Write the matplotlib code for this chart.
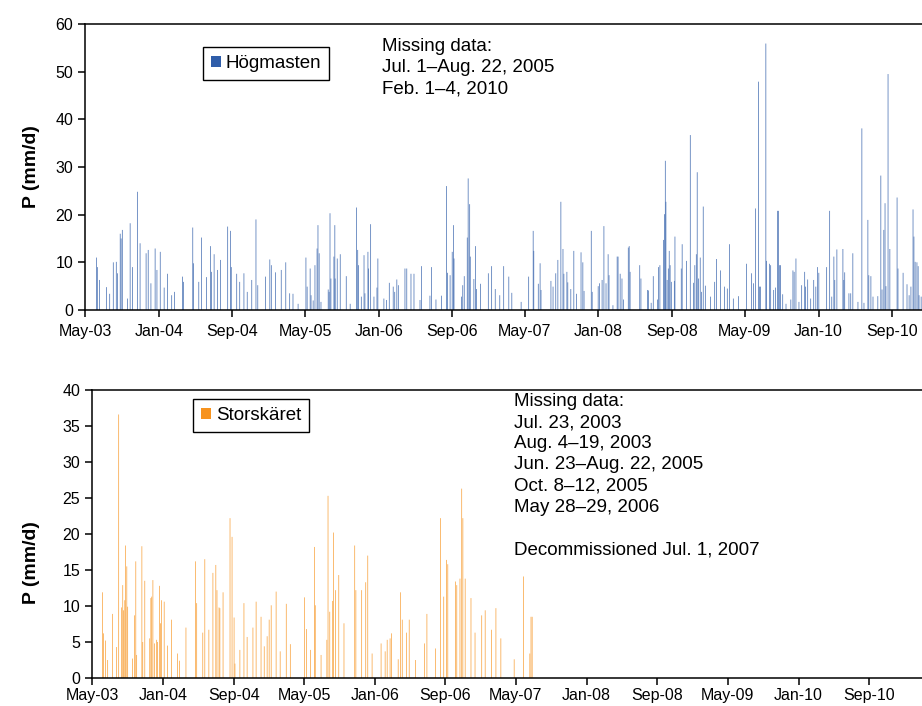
import matplotlib
matplotlib.use("Agg")
import matplotlib.pyplot as plt
import pandas as pd

plt.rcParams['font.family'] = ['Liberation Sans', 'DejaVu Sans']

# --- Högmasten: daily precipitation (mm/d) ---
hog_dates = [
    # 2003
    "2003-06-08", "2003-06-11", "2003-06-18", "2003-07-11", "2003-07-22", "2003-08-03", "2003-08-13",
    "2003-08-17", "2003-08-26", "2003-08-29", "2003-09-02", "2003-09-19", "2003-09-28", "2003-10-06",
    "2003-10-22", "2003-10-31", "2003-11-20", "2003-11-27", "2003-12-06", "2003-12-20", "2003-12-26",
    # 2004
    "2004-01-06", "2004-01-19", "2004-01-30", "2004-02-13", "2004-02-22", "2004-03-20", "2004-03-23",
    "2004-04-23", "2004-04-25", "2004-05-13", "2004-05-22", "2004-06-08", "2004-06-21", "2004-06-24",
    "2004-07-03", "2004-07-14", "2004-07-24", "2004-08-17", "2004-08-26", "2004-08-29", "2004-09-16",
    "2004-09-26", "2004-10-10", "2004-10-21", "2004-11-05", "2004-11-19", "2004-11-25", "2004-12-21",
    # 2005
    "2005-01-04", "2005-01-09", "2005-01-23", "2005-02-11", "2005-02-26", "2005-03-11", "2005-03-22",
    "2005-04-08", "2005-05-04", "2005-05-08", "2005-05-18", "2005-05-21", "2005-05-28", "2005-06-03",
    "2005-06-10", "2005-06-13", "2005-06-17", "2005-06-23", "2005-07-17", "2005-07-20", "2005-07-23",
    "2005-07-26", "2005-08-05", "2005-08-08", "2005-08-09", "2005-08-16", "2005-08-26", "2005-09-15",
    "2005-09-28", "2005-10-19", "2005-10-23", "2005-10-26", "2005-11-04", "2005-11-13", "2005-11-16",
    "2005-11-26", "2005-11-28", "2005-12-05", "2005-12-16", "2005-12-26", "2005-12-29",
    # 2006
    "2006-01-18", "2006-01-27", "2006-02-05", "2006-02-18", "2006-02-23", "2006-03-02", "2006-03-07",
    "2006-03-29", "2006-04-04", "2006-04-18", "2006-04-28", "2006-05-18", "2006-05-23", "2006-06-20",
    "2006-06-25", "2006-07-10", "2006-07-28", "2006-08-14", "2006-08-17", "2006-08-26", "2006-09-02",
    "2006-09-06", "2006-09-08", "2006-10-03", "2006-10-07", "2006-10-12", "2006-10-22", "2006-10-25",
    "2006-10-30", "2006-11-01", "2006-11-13", "2006-11-18", "2006-11-22", "2006-12-05", "2006-12-31",
    # 2007
    "2007-01-11", "2007-01-23", "2007-02-07", "2007-02-20", "2007-03-09", "2007-03-19", "2007-04-19",
    "2007-05-14", "2007-05-29", "2007-05-31", "2007-06-15", "2007-06-21", "2007-06-24", "2007-07-27",
    "2007-08-03", "2007-08-12", "2007-08-19", "2007-08-29", "2007-09-05", "2007-09-08", "2007-09-18",
    "2007-09-21", "2007-10-01", "2007-10-11", "2007-10-20", "2007-11-04", "2007-11-10", "2007-11-14",
    "2007-12-08", "2007-12-11", "2007-12-31",
    # 2008
    "2008-01-04", "2008-01-13", "2008-01-19", "2008-01-26", "2008-02-02", "2008-02-05", "2008-02-18",
    "2008-03-03", "2008-03-06", "2008-03-13", "2008-03-19", "2008-03-24", "2008-04-09", "2008-04-12",
    "2008-04-15", "2008-05-17", "2008-05-21", "2008-06-12", "2008-06-15", "2008-06-24", "2008-07-01",
    "2008-07-15", "2008-07-18", "2008-07-23", "2008-08-04", "2008-08-07", "2008-08-10", "2008-08-12",
    "2008-08-16", "2008-08-20", "2008-08-23", "2008-08-26", "2008-08-30", "2008-09-09", "2008-09-11",
    "2008-10-02", "2008-10-05", "2008-10-19", "2008-11-01", "2008-11-12", "2008-11-16", "2008-11-21",
    "2008-11-24", "2008-11-28", "2008-12-04", "2008-12-08", "2008-12-14", "2008-12-21",
    # 2009
    "2009-01-07", "2009-01-21", "2009-01-27", "2009-02-09", "2009-02-23", "2009-03-04", "2009-03-11",
    "2009-03-24", "2009-04-10", "2009-05-07", "2009-05-23", "2009-05-30", "2009-06-06", "2009-06-16",
    "2009-06-19", "2009-06-22", "2009-07-10", "2009-07-12", "2009-07-22", "2009-07-26", "2009-08-05",
    "2009-08-11", "2009-08-18", "2009-08-21", "2009-08-25", "2009-08-28", "2009-09-04", "2009-09-15",
    "2009-10-01", "2009-10-08", "2009-10-12", "2009-10-18", "2009-10-28", "2009-11-06", "2009-11-16",
    "2009-11-19", "2009-11-26", "2009-12-06", "2009-12-16", "2009-12-23", "2009-12-29",
    # 2010
    "2010-01-02", "2010-01-28", "2010-02-07", "2010-02-14", "2010-02-21", "2010-02-24", "2010-03-03",
    "2010-03-23", "2010-03-26", "2010-03-29", "2010-04-12", "2010-04-18", "2010-04-25", "2010-05-12",
    "2010-05-25", "2010-06-01", "2010-06-14", "2010-06-17", "2010-06-24", "2010-07-01", "2010-07-17",
    "2010-07-27", "2010-07-31", "2010-08-06", "2010-08-10", "2010-08-13", "2010-08-20", "2010-08-26",
    "2010-09-19", "2010-09-22", "2010-10-09", "2010-10-22", "2010-10-29", "2010-11-04", "2010-11-11",
    "2010-11-14", "2010-11-18", "2010-11-24", "2010-11-28", "2010-12-01", "2010-12-08", "2010-12-14",
    "2010-12-18",
]
hog_values = [
    # 2003
    11.0, 9.0, 6.3, 4.8, 3.4, 10.0, 10.1, 7.7, 16.0, 15.0, 16.8, 2.4, 18.2, 9.0, 24.8, 14.0, 11.9, 12.6,
    5.6, 12.9, 8.4,
    # 2004
    12.2, 4.7, 7.6, 3.1, 3.8, 7.0, 5.9, 17.3, 9.8, 5.9, 15.2, 6.9, 13.4, 8.0, 11.7, 8.4, 10.5, 17.5, 16.6,
    9.0, 7.6, 5.9, 7.7, 3.8, 6.3, 19.0, 5.2, 7.0,
    # 2005
    10.6, 9.4, 7.9, 8.4, 10.0, 3.5, 3.4, 1.3, 11.0, 4.9, 8.7, 3.1, 2.0, 9.4, 12.9, 17.8, 11.9, 1.7, 4.3,
    3.8, 20.3, 6.6, 11.2, 17.8, 6.6, 10.8, 11.7, 7.1, 1.3, 21.5, 12.6, 9.4, 2.8, 11.5, 3.5, 12.2, 8.7,
    18.0, 2.8, 4.7, 10.8,
    # 2006
    2.4, 2.1, 5.7, 4.9, 3.8, 6.4, 5.2, 8.7, 8.7, 7.6, 7.6, 2.1, 9.2, 3.0, 9.0, 2.2, 3.0, 26.0, 7.8, 7.3,
    12.2, 17.8, 10.8, 2.8, 5.2, 7.1, 15.2, 27.6, 22.2, 11.2, 6.5, 13.4, 4.4, 5.5, 7.7,
    # 2007
    9.2, 4.4, 3.1, 9.2, 7.0, 3.6, 1.7, 7.0, 16.6, 12.4, 5.5, 9.8, 4.2, 6.1, 4.9, 7.7, 10.5, 22.7, 12.8,
    7.6, 8.0, 5.8, 4.4, 12.4, 3.4, 12.1, 10.0, 4.0, 16.6, 3.8, 5.0,
    # 2008
    5.6, 6.3, 17.6, 5.6, 11.7, 7.3, 1.0, 11.2, 11.2, 7.6, 6.6, 2.2, 13.1, 13.4, 8.0, 9.4, 6.6, 4.2, 4.1,
    1.5, 7.1, 2.2, 9.0, 9.4, 14.7, 20.1, 31.3, 22.7, 6.3, 8.7, 12.4, 9.4, 5.9, 6.1, 15.4, 8.7, 13.8, 10.3,
    36.7, 5.7, 9.4, 11.7, 28.9, 6.6, 11.0, 3.8, 21.7, 5.1,
    # 2009
    2.8, 5.9, 10.7, 8.3, 4.9, 4.5, 13.8, 2.4, 2.9, 9.7, 7.7, 5.6, 21.3, 47.9, 4.9, 4.9, 55.9, 10.3, 9.7,
    9.4, 4.2, 4.7, 20.8, 20.8, 9.4, 9.4, 3.3, 1.3, 2.2, 8.3, 8.0, 10.8, 1.7, 5.2, 8.0, 4.9, 6.4, 2.4, 6.3,
    4.9, 9.0,
    # 2010
    7.8, 9.0, 20.8, 2.8, 11.2, 6.3, 12.7, 12.8, 6.3, 7.9, 3.5, 3.5, 11.9, 1.7, 38.1, 1.5, 18.9, 7.3, 7.1,
    2.8, 2.9, 28.2, 4.3, 16.8, 22.4, 5.0, 49.5, 12.8, 23.6, 8.7, 7.8, 5.4, 3.1, 4.9, 21.1, 15.4, 10.1,
    10.0, 9.2, 3.1, 2.8, 3.5, 3.8,
]

# --- Storskäret: daily precipitation (mm/d) ---
sto_dates = [
    # 2003
    "2003-06-06", "2003-06-10", "2003-06-17", "2003-06-24", "2003-07-11", "2003-07-25", "2003-08-01",
    "2003-08-11", "2003-08-15", "2003-08-18", "2003-08-22", "2003-08-25", "2003-08-29", "2003-09-01",
    "2003-09-18", "2003-09-25", "2003-09-29", "2003-10-02", "2003-10-20", "2003-10-23", "2003-10-30",
    "2003-11-16", "2003-11-20", "2003-11-23", "2003-11-27", "2003-12-03", "2003-12-10", "2003-12-13",
    "2003-12-20", "2003-12-23", "2003-12-27",
    # 2004
    "2004-01-05", "2004-01-16", "2004-01-30", "2004-02-20", "2004-02-27", "2004-03-20", "2004-04-22",
    "2004-04-26", "2004-05-17", "2004-05-24", "2004-06-07", "2004-06-21", "2004-07-01", "2004-07-05",
    "2004-07-12", "2004-07-15", "2004-07-26", "2004-08-19", "2004-08-26", "2004-09-02", "2004-09-05",
    "2004-09-22", "2004-10-06", "2004-10-17", "2004-11-06", "2004-11-17", "2004-12-04", "2004-12-15",
    "2004-12-25",
    # 2005
    "2005-01-01", "2005-01-08", "2005-01-25", "2005-02-08", "2005-03-01", "2005-03-15", "2005-05-03",
    "2005-05-10", "2005-05-24", "2005-06-06", "2005-06-09", "2005-06-29", "2005-07-19", "2005-07-23",
    "2005-07-29", "2005-08-08", "2005-08-11", "2005-08-18", "2005-08-29", "2005-09-16", "2005-10-23",
    "2005-10-27", "2005-11-16", "2005-11-30", "2005-12-07", "2005-12-22",
    # 2006
    "2006-01-22", "2006-02-05", "2006-02-12", "2006-02-22", "2006-02-27", "2006-03-22", "2006-03-30",
    "2006-04-05", "2006-04-20", "2006-04-29", "2006-05-21", "2006-06-21", "2006-06-29", "2006-07-29",
    "2006-08-15", "2006-08-26", "2006-09-05", "2006-09-09", "2006-10-06", "2006-10-10", "2006-10-21",
    "2006-10-27", "2006-10-31", "2006-11-08", "2006-11-28", "2006-12-12",
    # 2007
    "2007-01-04", "2007-01-16", "2007-02-07", "2007-02-22", "2007-03-11", "2007-04-26", "2007-05-28",
    "2007-06-19", "2007-06-23", "2007-06-27",
]
sto_values = [
    # 2003
    11.9, 6.2, 5.2, 2.5, 8.9, 4.3, 36.6, 9.8, 12.9, 9.4, 10.8, 18.4, 15.5, 9.9, 2.7, 8.7, 16.2, 3.2, 18.3,
    5.0, 13.5, 5.5, 11.1, 11.3, 13.6, 4.8, 5.3, 5.0, 12.8, 7.6, 10.8,
    # 2004
    10.6, 4.5, 8.1, 3.4, 2.4, 7.0, 16.2, 10.4, 6.3, 16.5, 6.7, 14.6, 15.7, 12.2, 9.8, 9.7, 11.9, 22.2,
    19.6, 8.4, 2.0, 3.9, 10.4, 5.7, 7.0, 10.6, 8.5, 4.4, 5.8,
    # 2005
    8.1, 10.1, 12.0, 3.7, 10.3, 4.7, 11.2, 6.8, 3.9, 18.2, 10.1, 3.2, 5.3, 25.3, 9.2, 10.7, 20.2, 12.2,
    14.3, 7.6, 18.4, 12.2, 12.2, 13.3, 17.0, 3.4,
    # 2006
    4.8, 3.7, 5.3, 5.5, 6.2, 2.6, 11.9, 8.1, 6.3, 8.1, 2.5, 4.8, 8.9, 4.1, 22.2, 11.3, 16.4, 15.8, 13.4,
    12.9, 13.8, 26.3, 22.2, 13.8, 11.1, 6.3,
    # 2007
    8.7, 9.4, 6.7, 9.7, 5.5, 2.6, 14.1, 3.4, 8.5, 8.5,
]

tick_labels = ["May-03", "Jan-04", "Sep-04", "May-05", "Jan-06", "Sep-06",
               "May-07", "Jan-08", "Sep-08", "May-09", "Jan-10", "Sep-10"]
tick_dates = pd.date_range("2003-05-01", periods=len(tick_labels), freq="8MS")

hog_text = "Missing data:\nJul. 1\u2013Aug. 22, 2005\nFeb. 1\u20134, 2010"
sto_text = ("Missing data:\nJul. 23, 2003\nAug. 4\u201319, 2003\nJun. 23\u2013Aug. 22, 2005\n"
            "Oct. 8\u201312, 2005\nMay 28\u201329, 2006\n\nDecommissioned Jul. 1, 2007")

BLUE = "#2F5DA9"
ORANGE = "#F7931E"

W, H = 922, 706
fig = plt.figure(figsize=(W / 100, H / 100), dpi=100)


def panel(rect, dates, values, color, label, ymax, ystep, xend, leg_xy, ylab_y, xpad):
    ax = fig.add_axes(rect)
    ax.bar(pd.to_datetime(dates), values, width=2.5, color=color, alpha=0.85, linewidth=0,
           snap=False, label=label)
    ax.set_xlim(pd.Timestamp("2003-05-01"), pd.Timestamp(xend))
    ax.set_ylim(0, ymax)
    ax.set_yticks(range(0, ymax + 1, ystep))
    ax.set_xticks(tick_dates)
    ax.set_xticklabels(tick_labels)
    ax.spines["right"].set_visible(False)
    for s in ["left", "bottom", "top"]:
        ax.spines[s].set_linewidth(1.1)
    ax.tick_params(direction="out", length=5, width=1.1, labelsize=11.5)
    ax.tick_params(axis="x", pad=xpad)
    ax.set_ylabel("P (mm/d)", fontsize=14, fontweight="bold")
    ax.yaxis.set_label_coords(ylab_y[0], ylab_y[1])
    leg = ax.legend(loc="upper left", bbox_to_anchor=(leg_xy[0] / W, 1 - leg_xy[1] / H),
                    bbox_transform=fig.transFigure, fancybox=False, edgecolor="black",
                    framealpha=1, fontsize=13.5, handlelength=0.55, handleheight=0.55,
                    handletextpad=0.25, borderpad=0.42, borderaxespad=0)
    leg.get_frame().set_linewidth(1.0)
    for h in leg.legend_handles:
        h.set_alpha(1)
    return ax


ax1 = panel([85 / W, 1 - 310 / H, 837 / W + 0.003, 286 / H], hog_dates, hog_values, BLUE,
            "Högmasten", 60, 10, "2010-12-20", (203, 47), (-0.054, 0.5), 5)
ax2 = panel([92 / W, 1 - 678 / H, 830 / W + 0.003, 288 / H], sto_dates, sto_values, ORANGE,
            "Storskäret", 40, 5, "2011-03-12", (193, 399), (-0.063, 0.4), 2.5)

fig.text(382 / W, 1 - 38 / H, hog_text, va="top", ha="left", fontsize=13.5, linespacing=1.32)
fig.text(514 / W, 1 - 393 / H, sto_text, va="top", ha="left", fontsize=13.5, linespacing=1.32)

fig.savefig("out.png", dpi=100)
